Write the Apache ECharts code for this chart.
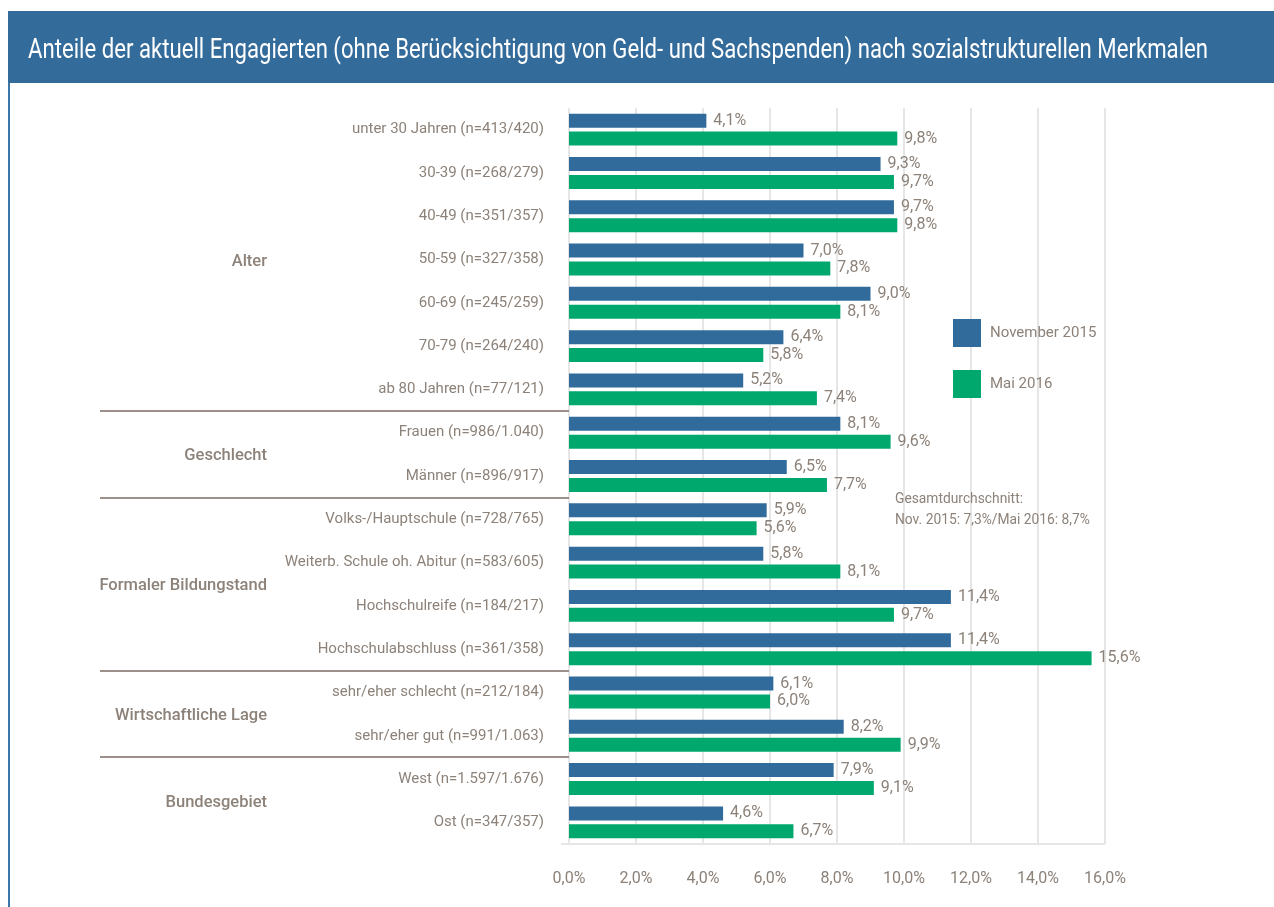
<!DOCTYPE html>
<html>
<head>
<meta charset="utf-8">
<title>Engagierte nach sozialstrukturellen Merkmalen</title>
<script src="https://cdn.jsdelivr.net/npm/echarts@6/dist/echarts.min.js"></script>
<style>
  html, body { margin: 0; padding: 0; background: #fff; }
  #main { width: 1274px; height: 907px; }
</style>
</head>
<body>
<div id="main"></div>
<script>
const categories = [
  'unter 30 Jahren (n=413/420)',
  '30-39 (n=268/279)',
  '40-49 (n=351/357)',
  '50-59 (n=327/358)',
  '60-69 (n=245/259)',
  '70-79 (n=264/240)',
  'ab 80 Jahren (n=77/121)',
  'Frauen (n=986/1.040)',
  'Männer (n=896/917)',
  'Volks-/Hauptschule (n=728/765)',
  'Weiterb. Schule oh. Abitur (n=583/605)',
  'Hochschulreife (n=184/217)',
  'Hochschulabschluss (n=361/358)',
  'sehr/eher schlecht (n=212/184)',
  'sehr/eher gut (n=991/1.063)',
  'West (n=1.597/1.676)',
  'Ost (n=347/357)'
]
const nov2015 = [4.1, 9.3, 9.7, 7.0, 9.0, 6.4, 5.2, 8.1, 6.5, 5.9, 5.8, 11.4, 11.4, 6.1, 8.2, 7.9, 4.6]
const mai2016 = [9.8, 9.7, 9.8, 7.8, 8.1, 5.8, 7.4, 9.6, 7.7, 5.6, 8.1, 9.7, 15.6, 6.0, 9.9, 9.1, 6.7]
const groupNames = ['Alter', 'Geschlecht', 'Formaler Bildungstand', 'Wirtschaftliche Lage', 'Bundesgebiet']
const groupSizes = [7, 2, 4, 2, 2]
const seriesNames = ['November 2015', 'Mai 2016']
const note = 'Gesamtdurchschnitt:\nNov. 2015: 7,3%/Mai 2016: 8,7%'
const titleText = 'Anteile der aktuell Engagierten (ohne Berücksichtigung von Geld- und Sachspenden) nach sozialstrukturellen Merkmalen'

const FONT = 'Roboto, "Liberation Sans", sans-serif'
const GRAY = '#8c8279'
const BLUE = '#306b9b'
const GREEN = '#00a86e'

const fmt = v => v.toFixed(1).replace('.', ',') + '%'

// width of a string in a given canvas font
function textWidth (text, font) {
  const ctx = document.createElement('canvas').getContext('2d')
  ctx.font = font
  return ctx.measureText(text).width
}

const dom = document.getElementById('main')
const chart = echarts.init(dom, null, { renderer: 'canvas' })

const barLabel = {
  show: true,
  position: 'right',
  distance: 7,
  color: GRAY,
  fontSize: 16,
  fontFamily: FONT,
  formatter: p => fmt(p.value)
}

const option = {
  animation: false,
  backgroundColor: '#fff',
  textStyle: { fontFamily: FONT },
  legend: {
    data: seriesNames,
    orient: 'vertical',
    left: 953,
    top: 319,
    padding: 0,
    itemWidth: 28,
    itemHeight: 28,
    itemGap: 23,
    icon: 'rect',
    textStyle: { color: GRAY, fontSize: 15, fontFamily: FONT, padding: [0, 0, 0, 4] }
  },
  grid: {
    left: 569,
    right: 169,
    top: 108,
    bottom: 63
  },
  xAxis: {
    type: 'value',
    min: 0,
    max: 16,
    interval: 2,
    axisLine: { show: false },
    axisTick: { show: false },
    splitLine: { show: true, lineStyle: { color: '#e6e6e6', width: 2 } },
    axisLabel: {
      color: GRAY,
      fontSize: 16,
      fontFamily: FONT,
      margin: 27,
      formatter: v => fmt(v)
    }
  },
  yAxis: {
    type: 'category',
    inverse: true,
    data: categories,
    axisLine: { show: false },
    axisTick: { show: false },
    axisLabel: { color: GRAY, fontSize: 15, fontFamily: FONT, margin: 25, padding: [3, 0, 0, 0] }
  },
  series: [
    {
      name: seriesNames[0],
      type: 'bar',
      data: nov2015,
      barWidth: 14,
      barGap: '28%',
      itemStyle: { color: BLUE },
      label: barLabel
    },
    {
      name: seriesNames[1],
      type: 'bar',
      data: mai2016,
      barWidth: 14,
      barGap: '28%',
      itemStyle: { color: GREEN },
      label: barLabel
    }
  ]
}

chart.setOption(option)

// frame, title, group labels and separators, placed from the category axis
function drawExtras () {
  const elements = []
  elements.push({
    type: 'rect',
    z: -1,
    shape: { x: 8, y: 11, width: 1266, height: 72 },
    style: { fill: '#336b9b' }
  })
  elements.push({
    type: 'rect',
    shape: { x: 8, y: 83, width: 2, height: 824 },
    style: { fill: '#3a76a9' }
  })
  const titleFont = '28px ' + FONT
  const titleScale = 1180 / textWidth(titleText, titleFont)
  elements.push({
    type: 'text',
    x: 28,
    y: 51,
    scaleX: titleScale,
    style: {
      text: titleText,
      x: 0,
      y: 0,
      verticalAlign: 'middle',
      fill: '#fff',
      font: titleFont
    }
  })
  const x0 = chart.convertToPixel({ xAxisIndex: 0 }, 0)
  const xMax = chart.convertToPixel({ xAxisIndex: 0 }, 16)
  const yBottom = chart.convertToPixel({ yAxisIndex: 0 }, categories[categories.length - 1]) + 21.7
  // bottom axis line
  elements.push({
    type: 'line',
    shape: { x1: x0 - 8, y1: yBottom, x2: xMax, y2: yBottom },
    style: { stroke: '#e6e6e6', lineWidth: 2 }
  })
  let start = 0
  groupNames.forEach((name, gi) => {
    const end = start + groupSizes[gi] - 1
    const yA = chart.convertToPixel({ yAxisIndex: 0 }, categories[start])
    const yB = chart.convertToPixel({ yAxisIndex: 0 }, categories[end])
    elements.push({
      type: 'text',
      style: {
        text: name,
        x: 267,
        y: (yA + yB) / 2 + 2,
        align: 'right',
        verticalAlign: 'middle',
        fill: GRAY,
        font: '500 16.5px ' + FONT
      }
    })
    if (gi > 0) {
      const yPrev = chart.convertToPixel({ yAxisIndex: 0 }, categories[start - 1])
      const ySep = Math.round((yPrev + yA) / 2)
      elements.push({
        type: 'line',
        shape: { x1: 100, y1: ySep, x2: x0, y2: ySep },
        style: { stroke: '#9b918a', lineWidth: 2 }
      })
    }
    start = end + 1
  })
  elements.push({
    type: 'text',
    style: {
      text: note,
      x: 895,
      y: 489,
      fill: GRAY,
      font: '13.8px ' + FONT,
      lineHeight: 21
    }
  })
  chart.setOption({ graphic: { elements: elements } })
}
drawExtras()

window.addEventListener('resize', () => chart.resize())
</script>
</body>
</html>
